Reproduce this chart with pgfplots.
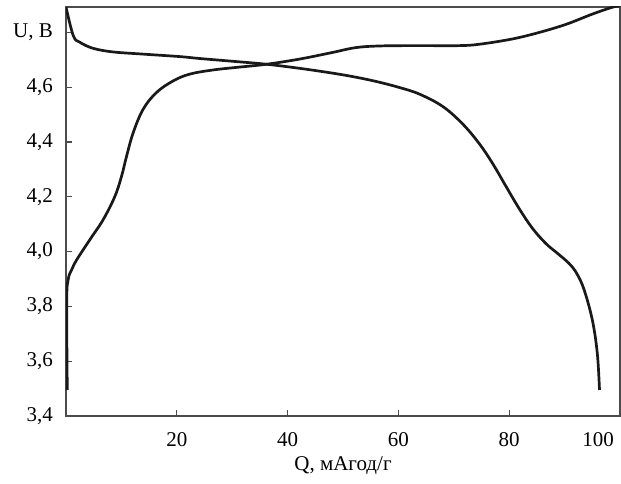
\documentclass[border=0pt]{standalone}
\usepackage{pgfplots}
\pgfplotsset{compat=1.18}
\usepackage{fontspec}
\setmainfont{Liberation Serif}

\begin{document}
\fontsize{21}{24}\selectfont
\begin{tikzpicture}
\begin{axis}[
  scale only axis,
  width=554pt, height=409pt,
  xmin=0, xmax=100, ymin=3.4, ymax=4.893,
  axis line style={draw=black!70, line width=1.3pt},
  tick style={draw=black!70, line width=1.3pt},
  tick pos=left, tick align=inside,
  major tick length=6pt,
  xtick={20,40,60,80},
  xticklabels={20,40,60,80},
  extra x ticks={100},
  extra x tick labels={100},
  extra x tick style={major tick length=0pt,
    xticklabel style={anchor=north east, xshift=1pt}},
  ytick={3.4,3.6,3.8,4.0,4.2,4.4,4.6,4.8},
  yticklabels={{3,4},{3,6},{3,8},{4,0},{4,2},{4,4},{4,6},{U, B}},
  xticklabel style={font=\fontsize{21}{24}\selectfont, yshift=-9pt},
  yticklabel style={font=\fontsize{21}{24}\selectfont, xshift=-6pt},
  xlabel={Q, мАгод/г},
  xlabel style={font=\fontsize{21}{24}\selectfont,
    at={(axis description cs:0.5,0)}, anchor=center, yshift=-50pt},
  clip=true,
]
% charge
\addplot[black!90, line width=2.7pt, smooth, tension=0.6] coordinates {
(0.23,3.495) (0.13,3.82) (0.41,3.90) (1.03,3.934) (1.93,3.97)
(4.32,4.044) (6.72,4.117) (8.83,4.202) (10.04,4.276) (10.94,4.349)
(12.13,4.434) (13.93,4.520) (16.34,4.581) (19.33,4.623) (22.34,4.648)
(26.5,4.663) (31.0,4.673) (36.2,4.684) (42.2,4.703) (48.1,4.727)
(52.4,4.745) (57.1,4.751) (64.0,4.752) (71.0,4.752) (74.6,4.757)
(80.5,4.776) (85.4,4.80) (90.3,4.83) (95.0,4.867) (98.6,4.892) (100,4.897)
};
% discharge
\addplot[black!90, line width=2.7pt, smooth, tension=0.6] coordinates {
(0,4.893) (1.32,4.788) (2.52,4.764) (4.92,4.742) (8.47,4.729)
(13.9,4.721) (20.5,4.712) (24.1,4.705) (30.0,4.695) (36.2,4.684)
(42.2,4.669) (47.0,4.655) (51.2,4.641) (55.8,4.622) (60.2,4.599)
(63.8,4.575) (68.0,4.530) (71.6,4.466) (74.6,4.394) (77.0,4.322)
(79.4,4.239) (81.8,4.157) (84.2,4.085) (86.6,4.030) (88.7,3.994)
(90.8,3.957) (92.2,3.920) (93.5,3.862) (95.0,3.751) (95.9,3.629)
(96.3,3.495)
};
\end{axis}
\pgfresetboundingbox
\path[use as bounding box] ([shift={(-66pt,-68pt)}]current axis.south west)
  rectangle ([shift={(1pt,7pt)}]current axis.north east);
\end{tikzpicture}
\end{document}
